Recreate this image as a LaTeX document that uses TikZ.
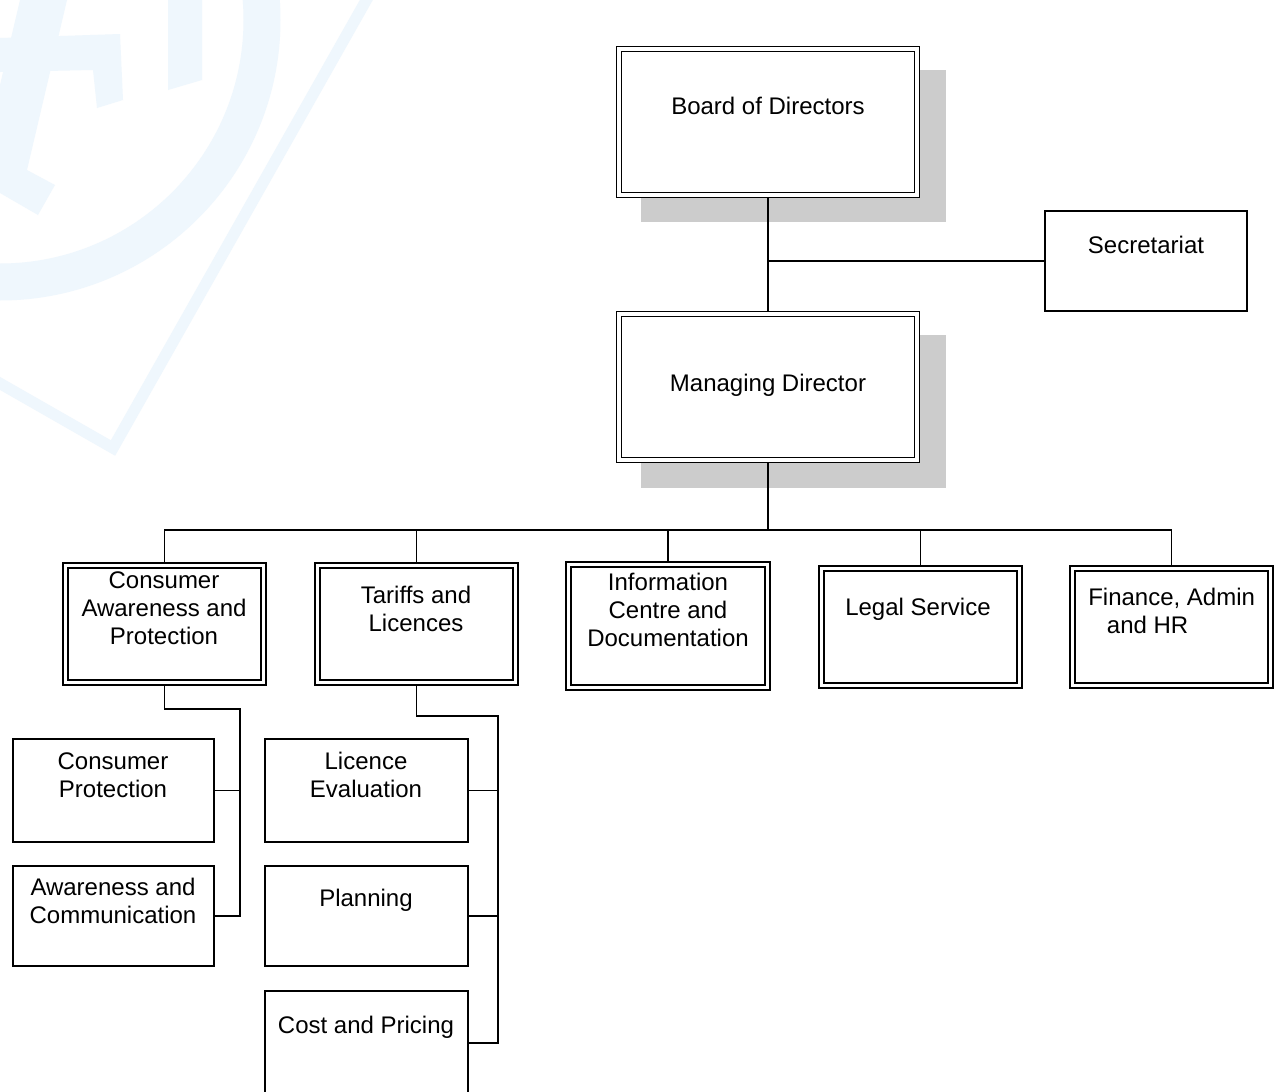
\documentclass[tikz,border=0pt]{standalone}
\usepackage{fontspec}
\setmainfont{Liberation Sans}
\definecolor{shadowgray}{RGB}{204,204,204}
\definecolor{wmblue}{RGB}{239,247,253}
\begin{document}
\begin{tikzpicture}[x=0.75pt,y=-0.75pt,
  txt/.style={font=\fontsize{18}{21}\selectfont, align=center, inner sep=0pt},
  dbox/.style={draw, double, line width=1.3pt, double distance=2.6pt, fill=white, inner sep=0pt, outer sep=1.95pt},
  sbox/.style={draw, line width=1.4pt, fill=white, inner sep=0pt, outer sep=0pt},
  conn/.style={draw, line width=1.4pt},
  wm/.style={fill=wmblue}]
\clip (0,0) rectangle (1279,1092);
\fill[white] (0,0) rectangle (1279,1092);
% watermark
\draw[wmblue, line width=27.75pt] (0,20) circle[radius=262];
\draw[wmblue, line width=8.5pt] (372,-10) -- (113,448) -- (-20,372);
\fill[wm] (20,0) -- (67,0) -- (27,170) -- (55,185) -- (38,215) -- (0,193) -- (0,85) -- cycle;
\fill[wm] (0,38) -- (120,34) -- (123,100) -- (97,108) -- (93,70) -- (0,72) -- cycle;
\fill[wm] (168,0) -- (202,0) -- (202,80) -- (168,90) -- cycle;
% shadows
\fill[shadowgray] (641,70) rectangle (946,222);
\fill[shadowgray] (641,335) rectangle (946,488);
% top boxes
\node[dbox, minimum width=223.5pt, minimum height=109.5pt] (bod) at (768,122) {};
\node[dbox, minimum width=223.5pt, minimum height=109.5pt] (md) at (768,387) {};
\node[sbox, minimum width=151.5pt, minimum height=75pt] (sec) at (1146,261) {};
% second row
\node[dbox, minimum width=148.5pt, minimum height=88pt] (cap) at (164.5,624) {};
\node[dbox, minimum width=148.5pt, minimum height=88pt] (tar) at (416.5,624) {};
\node[dbox, minimum width=149.25pt, minimum height=92.25pt] (inf) at (668,626) {};
\node[dbox, minimum width=148.5pt, minimum height=88pt] (leg) at (920.5,627) {};
\node[dbox, minimum width=148.5pt, minimum height=88pt] (fin) at (1171.5,627) {};
% third row
\node[sbox, minimum width=150.75pt, minimum height=77.25pt] (cp) at (113.5,790.5) {};
\node[sbox, minimum width=150.75pt, minimum height=75pt] (ac) at (113.5,916) {};
\node[sbox, minimum width=152.25pt, minimum height=77.25pt] (le) at (366.5,790.5) {};
\node[sbox, minimum width=152.25pt, minimum height=75pt] (pl) at (366.5,916) {};
\node[sbox, minimum width=152.25pt, minimum height=78pt] (cost) at (366.5,1043) {};
% texts
\node[txt] (bodt) at (768,106) {Board of Directors};
\node[txt] (mdt) at (768,385) {Managing Director};
\node[txt] (sect) at (1146,245) {Secretariat};
\node[txt] (capt) at (164,608) {Consumer\\Awareness and\\Protection};
\node[txt] (tart) at (416,608.5) {Tariffs and\\Licences};
\node[txt] (inft) at (668,610) {Information\\Centre and\\Documentation};
\node[txt] (legt) at (918,609) {Legal Service};
\node[txt, align=left, anchor=west] (fint) at (1088,610.5) {Finance, Admin\\\hspace*{14pt}and HR};
\node[txt] (cpt) at (113,775) {Consumer\\Protection};
\node[txt] (act) at (113,901) {Awareness and\\Communication};
\node[txt] (let) at (366,775) {Licence\\Evaluation};
\node[txt] (plt) at (366,900) {Planning};
\node[txt] (costt) at (366,1027) {Cost and Pricing};
% connectors
\draw[conn] (bod.south) -- (md.north);
\draw[conn] (sec.west) -- (sec.west -| bod.south);
\coordinate (bus) at (768,530);
\draw[conn] (md.south) -- (bus);
\foreach \n in {cap,tar,inf,leg,fin} \draw[conn] (\n.north) |- (bus);
\coordinate (capj) at (240,709);
\draw[conn] (cap.south) |- (capj) -- (capj |- ac.east) -- (ac.east);
\draw[conn] (cp.east) -- (cp.east -| capj);
\coordinate (tarj) at (498,716);
\draw[conn] (tar.south) |- (tarj) -- (tarj |- cost.east) -- (cost.east);
\draw[conn] (le.east) -- (le.east -| tarj);
\draw[conn] (pl.east) -- (pl.east -| tarj);
\end{tikzpicture}
\end{document}
